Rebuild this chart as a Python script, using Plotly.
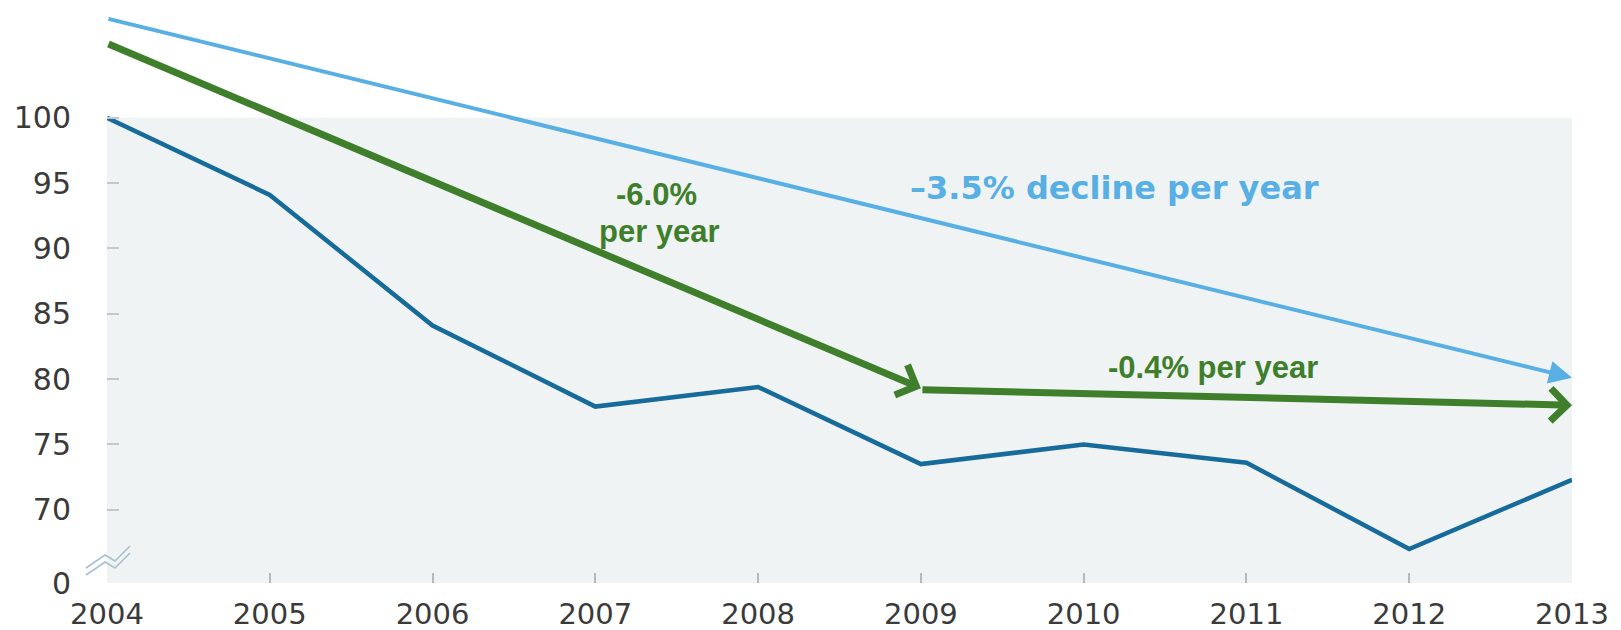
import plotly.graph_objects as go

# ---- data ----
years = [2004, 2005, 2006, 2007, 2008, 2009, 2010, 2011, 2012, 2013]
index_values = [100.0, 94.1, 84.1, 77.9, 79.4, 73.5, 75.0, 73.6, 67.0, 72.3]

trend_35_x = [2004, 2013]
trend_35_y = [107.6, 80.1]

trend_60_x = [2004, 2009]
trend_60_y = [105.7, 79.3]

trend_04_x = [2009, 2013]
trend_04_y = [79.2, 78.0]

y_tick_vals = [64.4, 70, 75, 80, 85, 90, 95, 100]
y_tick_text = ["0", "70", "75", "80", "85", "90", "95", "100"]

label_60a = "-6.0%"
label_60b = "per year"
label_35 = "\u20133.5% decline per year"
label_04 = "-0.4% per year"

# ---- style ----
DARK = "#176b9a"
LIGHT = "#57afe3"
GREEN = "#3f7f2b"
BG = "#eff3f4"
TXT = "#3a3a3a"
FONT = "DejaVu Sans"
GFONT = "Liberation Sans"

Y_MIN, Y_MAX = 64.4, 108.4
W, H = 1621, 630
ML, MR, MT, MB = 99, 57, 0, 55

fig = go.Figure()

fig.add_trace(go.Scatter(
    x=years, y=index_values, mode="lines",
    line=dict(color=DARK, width=4.5), hoverinfo="skip", showlegend=False,
))

# grey plot background (only up to 100)
fig.add_shape(type="rect", xref="x", yref="y", x0=years[0], x1=years[-1],
              y0=Y_MIN, y1=100, fillcolor=BG, line=dict(width=0), layer="below")

def arrow(xs, ys, color, width, head, size):
    fig.add_annotation(
        x=xs[1], y=ys[1], ax=xs[0], ay=ys[0], xref="x", yref="y",
        axref="x", ayref="y", text="", showarrow=True,
        arrowhead=head, arrowsize=size, arrowwidth=width, arrowcolor=color,
        standoff=0, startstandoff=0,
    )

arrow(trend_35_x, trend_35_y, LIGHT, 4, 2, 1.15)
arrow(trend_60_x, trend_60_y, GREEN, 7, 4, 0.9)
arrow(trend_04_x, trend_04_y, GREEN, 7, 4, 0.9)

# text labels
def px_to_paper(px, py):
    return (px - ML) / (W - ML - MR), (H - MB - py) / (H - MT - MB)

for txt, (px, py), col, fam, size in [
    (label_60a, (648, 187), GREEN, GFONT, 31),
    (label_60b, (651, 223), GREEN, GFONT, 31),
    (label_35, (1106, 180), LIGHT, FONT, 32),
    (label_04, (1205, 359), GREEN, GFONT, 31),
]:
    xp, yp = px_to_paper(px, py)
    fig.add_annotation(x=xp, y=yp, xref="paper", yref="paper", text=txt,
                       showarrow=False, xanchor="center", yanchor="middle",
                       font=dict(family=fam, size=size, color=col, weight="bold"))

# axis break symbol (two zigzag lines)
zig = [(78, 560), (97, 547), (107, 553), (122, 538)]
for off in (0, 7):
    pts = [px_to_paper(x, y + off) for x, y in zig]
    path = "M " + " L ".join(f"{a},{b}" for a, b in pts)
    fig.add_shape(type="path", xref="paper", yref="paper", path=path,
                  line=dict(color="#a9c1ce", width=1.6))

fig.update_layout(
    width=W, height=H,
    margin=dict(l=ML, r=MR, t=MT, b=MB, pad=0),
    paper_bgcolor="white", plot_bgcolor="white",
    font=dict(family=FONT, color=TXT),
    showlegend=False,
)
fig.update_xaxes(
    range=[years[0], years[-1]], tickvals=years, ticktext=[str(y) for y in years],
    showgrid=False, zeroline=False, showline=False,
    ticks="inside", ticklen=10, tickwidth=1.5, tickcolor="#b8b8b8",
    tickfont=dict(size=29, color=TXT), ticklabelstandoff=11,
)
fig.update_yaxes(
    range=[Y_MIN, Y_MAX], tickvals=y_tick_vals, ticktext=y_tick_text,
    showgrid=False, zeroline=False, showline=False,
    ticks="inside", ticklen=12, tickwidth=1.5, tickcolor="#c4c8ca",
    tickfont=dict(size=30, color=TXT), ticklabelstandoff=35,
)

fig.write_html("out.html")
